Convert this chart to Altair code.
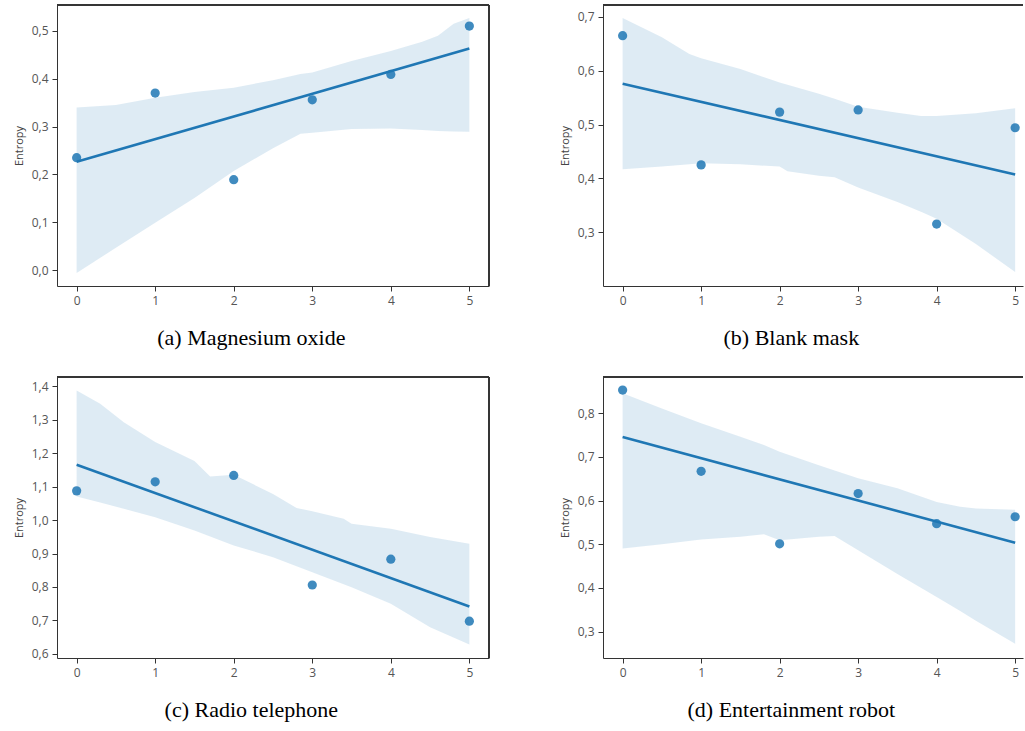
import altair as alt
import pandas as pd

# ---------------- data ----------------
x_vals = [0, 1, 2, 3, 4, 5]

y_a = [0.235, 0.370, 0.189, 0.356, 0.409, 0.510]
y_b = [0.665, 0.425, 0.523, 0.527, 0.315, 0.494]
y_c = [1.087, 1.114, 1.133, 0.806, 0.883, 0.698]
y_d = [0.853, 0.667, 0.501, 0.616, 0.547, 0.563]

# confidence band
band_x_a = [0, 0.5, 1, 1.5, 2, 2.5, 2.85, 3, 3.5, 4, 4.4, 4.6, 4.8, 5]
band_hi_a = [0.340, 0.345, 0.360, 0.372, 0.381, 0.397, 0.410, 0.413, 0.437, 0.458, 0.477, 0.490, 0.515, 0.527]
band_lo_a = [-0.006, 0.047, 0.099, 0.151, 0.207, 0.255, 0.285, 0.287, 0.295, 0.296, 0.293, 0.291, 0.290, 0.289]

band_x_b = [0, 0.5, 0.85, 1, 1.5, 2, 2.1, 2.5, 2.7, 3, 3.5, 3.8, 4, 4.5, 5]
band_hi_b = [0.698, 0.662, 0.631, 0.623, 0.603, 0.578, 0.574, 0.557, 0.548, 0.533, 0.522, 0.516, 0.516, 0.521, 0.530]
band_lo_b = [0.417, 0.422, 0.426, 0.428, 0.426, 0.422, 0.413, 0.405, 0.402, 0.383, 0.356, 0.338, 0.325, 0.278, 0.226]

band_x_c = [0, 0.3, 0.6, 1, 1.5, 1.7, 2, 2.5, 2.8, 3, 3.4, 3.5, 4, 4.5, 5]
band_hi_c = [1.387, 1.347, 1.292, 1.233, 1.176, 1.130, 1.135, 1.078, 1.036, 1.026, 1.004, 0.989, 0.974, 0.949, 0.929]
band_lo_c = [1.070, 1.052, 1.034, 1.008, 0.969, 0.951, 0.924, 0.889, 0.862, 0.844, 0.808, 0.799, 0.750, 0.680, 0.628]

band_x_d = [0, 0.5, 1, 1.5, 1.8, 2, 2.5, 2.7, 3, 3.5, 4, 4.3, 4.5, 5]
band_hi_d = [0.846, 0.811, 0.777, 0.746, 0.727, 0.712, 0.681, 0.669, 0.651, 0.628, 0.597, 0.586, 0.582, 0.579]
band_lo_d = [0.490, 0.500, 0.511, 0.517, 0.523, 0.509, 0.517, 0.519, 0.486, 0.432, 0.379, 0.347, 0.325, 0.272]

captions = ["(a) Magnesium oxide", "(b) Blank mask", "(c) Radio telephone", "(d) Entertainment robot"]
y_ticks_a = [0.0, 0.1, 0.2, 0.3, 0.4, 0.5]
y_ticks_b = [0.3, 0.4, 0.5, 0.6, 0.7]
y_ticks_c = [0.6, 0.7, 0.8, 0.9, 1.0, 1.1, 1.2, 1.3, 1.4]
y_ticks_d = [0.3, 0.4, 0.5, 0.6, 0.7, 0.8]
x_ticks = [0, 1, 2, 3, 4, 5]

# ---------------- style ----------------
BLUE = "#1f77b4"
FRAME = "#333333"
LABEL = "#555555"
H = 281
W_LEFT = 432
W_RIGHT = 420


def panel(ys, bx, blo, bhi, ydom, yticks, caption, width, xdom, right_border):
    pts = pd.DataFrame({"x": x_vals, "y": ys})
    band = pd.DataFrame({"x": bx, "lo": blo, "hi": bhi})

    xscale = alt.Scale(domain=xdom, nice=False, zero=False)
    yscale = alt.Scale(domain=ydom, nice=False, zero=False)

    xaxis = alt.Axis(values=x_ticks, format="d", grid=False, domainColor=FRAME,
                     tickColor=FRAME, tickSize=5, labelPadding=4, labelFont="Open Sans",
                     labelFontSize=12, labelColor=LABEL, title=None, labelOverlap=False)
    yaxis = alt.Axis(values=yticks, grid=False, domainColor=FRAME, tickColor=FRAME,
                     tickSize=5, labelPadding=4, labelFont="Open Sans", labelFontSize=12,
                     labelColor=LABEL, labelOverlap=False,
                     labelExpr="replace(format(datum.value, '.1f'), '.', ',')",
                     title="Entropy", titleFont="Open Sans", titleFontSize=11,
                     titleFontWeight="normal", titleColor="#444444", titlePadding=7)

    area = alt.Chart(band).mark_area(color=BLUE, opacity=0.15, clip=True).encode(
        x=alt.X("x:Q", scale=xscale, axis=xaxis),
        y=alt.Y("lo:Q", scale=yscale, axis=yaxis),
        y2="hi:Q",
    )
    line = alt.Chart(pts).transform_regression("x", "y", extent=[0, 5]).mark_line(
        color=BLUE, strokeWidth=2.6).encode(
        x=alt.X("x:Q", scale=xscale, axis=xaxis),
        y=alt.Y("y:Q", scale=yscale, axis=yaxis),
    )
    dots = alt.Chart(pts).mark_circle(color=BLUE, size=85, opacity=0.85).encode(
        x=alt.X("x:Q", scale=xscale, axis=xaxis),
        y=alt.Y("y:Q", scale=yscale, axis=yaxis),
    )
    top = alt.Chart(pts).mark_rule(color=FRAME, strokeWidth=1).encode(
        x=alt.value(0), x2=alt.value(width), y=alt.value(0))
    layers = [area, line, dots, top]
    if right_border:
        right = alt.Chart(pts).mark_rule(color=FRAME, strokeWidth=1).encode(
            x=alt.value(width), y=alt.value(0), y2=alt.value(H))
        layers.append(right)

    return alt.layer(*layers).properties(
        width=width, height=H,
        title=alt.TitleParams(caption, orient="bottom", anchor="middle", frame="bounds",
                              font="Liberation Serif", fontSize=22, fontWeight="normal",
                              color="#000000", offset=22),
    )


pa = panel(y_a, band_x_a, band_lo_a, band_hi_a, [-0.033, 0.554], y_ticks_a, captions[0],
           W_LEFT, [-0.25, 5.25], True)
pb = panel(y_b, band_x_b, band_lo_b, band_hi_b, [0.200, 0.722], y_ticks_b, captions[1],
           W_RIGHT, [-0.25, 5.1], False)
pc = panel(y_c, band_x_c, band_lo_c, band_hi_c, [0.588, 1.427], y_ticks_c, captions[2],
           W_LEFT, [-0.25, 5.25], True)
pd_ = panel(y_d, band_x_d, band_lo_d, band_hi_d, [0.2395, 0.883], y_ticks_d, captions[3],
            W_RIGHT, [-0.25, 5.1], False)

chart = alt.concat(pa, pb, pc, pd_, columns=2, spacing={"row": 26, "column": 68}).properties(
    padding={"left": 12, "top": 4, "right": 0, "bottom": 0},
    background="white",
).configure_view(stroke="transparent")

chart.save("out.html", embed_options={"renderer": "svg", "actions": False})
